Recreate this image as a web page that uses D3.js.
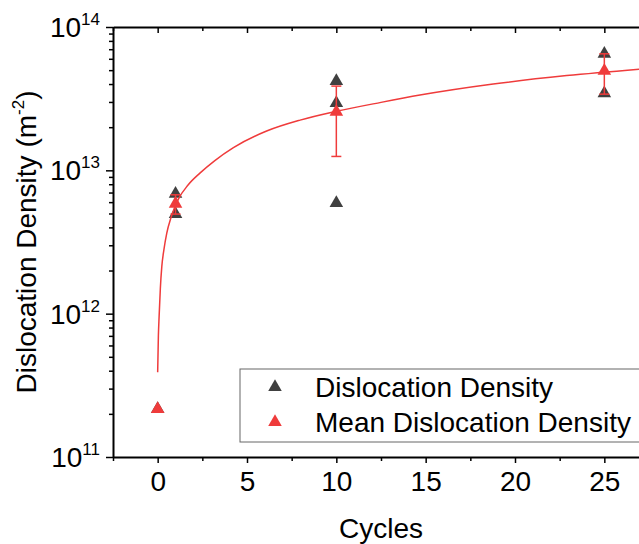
<!DOCTYPE html>
<html>
<head>
    <meta charset="utf-8">
    <title>Dislocation density vs cycles</title>
    <style>
        body { margin: 0; background: #fff; }
        svg { display: block; font-family: "Liberation Sans", Arial, sans-serif; }
        .axis path, .axis line { stroke: #000; }
        .axis text { fill: #000; }
    </style>
    <script src="https://d3js.org/d3.v7.min.js"></script>
</head>
<body>
<script type="application/javascript">
  // individual measurements (grey)
  var densCycles = [0, 1, 1, 10, 10, 10, 25, 25];
  var densValues = [2.16e11, 6.85e12, 4.95e12, 4.2e13, 2.95e13, 5.9e12, 6.5e13, 3.45e13];

  // mean + error (red)
  var meanCycles = [0, 1, 10, 25];
  var meanValues = [2.16e11, 5.85e12, 2.56e13, 4.95e13];
  var meanErrors = [0, 0.9e12, 1.31e13, 1.55e13];

  // fitted curve
  var fitCycles = [0, 0.04, 0.08, 0.15, 0.23, 0.35, 0.51, 0.75, 1.16, 1.7, 2.38, 3.2, 4.24, 6.1, 7.97, 10, 12.5, 14.68, 18.78, 22.89, 27.5];
  var fitValues = [3.9e11, 7.0e11, 9.5e11, 1.5e12, 2.12e12, 2.8e12, 3.65e12, 4.7e12, 6.3e12, 7.9e12, 9.6e12, 1.17e13, 1.44e13, 1.88e13, 2.24e13, 2.58e13, 2.98e13, 3.35e13, 4.0e13, 4.58e13, 5.15e13];

  var xTicks = [0, 5, 10, 15, 20, 25];
  var xMinorTicks = [-2.5, 2.5, 7.5, 12.5, 17.5, 22.5, 27.5];
  var yTicks = [1e11, 1e12, 1e13, 1e14];

  var legendLabels = ["Dislocation Density", "Mean Dislocation Density"];

  (function () {
  var w = 639, h = 544;
  var mLeft = 113, mRight = 649, mTop = 27, mBottom = 457;
  var grey = "#404040", red = "#ef3b3b";
  var fs = 28;

  var svg = d3.select("body").append("svg")
              .attr("width", w)
              .attr("height", h);

  var x = d3.scaleLinear().domain([-2.5, 27.5]).range([mLeft, mRight]);
  var y = d3.scaleLog().domain([1e11, 1e14]).range([mBottom, mTop]);

  var yMinor = [];
  [1e11, 1e12, 1e13].forEach(function (d) {
    for (var k = 2; k <= 9; k++) yMinor.push(d * k);
  });

  svg.append("clipPath").attr("id", "clip")
     .append("rect").attr("x", mLeft).attr("y", mTop)
     .attr("width", mRight - mLeft).attr("height", mBottom - mTop);

  // bottom axis
  svg.append("g").attr("class", "axis")
     .attr("transform", "translate(0," + mBottom + ")")
     .call(d3.axisBottom(x).tickValues(xMinorTicks).tickSize(4).tickSizeOuter(0).tickFormat(""))
     .call(function (g) { g.selectAll("line").attr("stroke-width", 1.5); g.select(".domain").remove(); });
  var xAx = svg.append("g").attr("class", "axis")
     .attr("transform", "translate(0," + mBottom + ")")
     .call(d3.axisBottom(x).tickValues(xTicks).tickSize(6).tickSizeOuter(0).tickPadding(8));
  xAx.select(".domain").attr("stroke-width", 2);
  xAx.selectAll("line").attr("stroke-width", 1.5);
  xAx.selectAll("text").attr("font-size", fs).attr("dy", "0.72em");

  // top axis, ticks inward
  svg.append("g").attr("class", "axis")
     .attr("transform", "translate(0," + mTop + ")")
     .call(d3.axisTop(x).tickValues(xMinorTicks).tickSize(-4).tickSizeOuter(0).tickFormat(""))
     .call(function (g) { g.selectAll("line").attr("stroke-width", 1.5); g.select(".domain").remove(); });
  var topAx = svg.append("g").attr("class", "axis")
     .attr("transform", "translate(0," + mTop + ")")
     .call(d3.axisTop(x).tickValues(xTicks).tickSize(-6).tickSizeOuter(0).tickFormat(""));
  topAx.select(".domain").attr("stroke-width", 2);
  topAx.selectAll("line").attr("stroke-width", 1.5);

  // left axis
  svg.append("g").attr("class", "axis")
     .attr("transform", "translate(" + mLeft + ",0)")
     .call(d3.axisLeft(y).tickValues(yMinor).tickSize(4).tickSizeOuter(0).tickFormat(""))
     .call(function (g) { g.selectAll("line").attr("stroke-width", 1.5); g.select(".domain").remove(); });
  var yAx = svg.append("g").attr("class", "axis")
     .attr("transform", "translate(" + mLeft + ",0)")
     .call(d3.axisLeft(y).tickValues(yTicks).tickSize(7).tickSizeOuter(0).tickFormat(""));
  yAx.select(".domain").attr("stroke-width", 2);
  yAx.selectAll("line").attr("stroke-width", 1.5);

  var ylab = svg.append("g").selectAll("text")
     .data(yTicks).enter().append("text")
     .attr("x", 100)
     .attr("y", function (d) { return y(d) + 10; })
     .attr("text-anchor", "end")
     .attr("font-size", fs)
     .attr("fill", "#000");
  ylab.append("tspan").text("10");
  ylab.append("tspan").attr("font-size", 17).attr("dy", -12)
      .text(function (d) { return Math.round(Math.log10(d)); });

  // axis titles
  svg.append("text")
     .attr("x", (mLeft + mRight) / 2).attr("y", 538)
     .attr("text-anchor", "middle").attr("font-size", fs)
     .text("Cycles");

  var yt = svg.append("text")
     .attr("transform", "translate(36," + (mTop + mBottom) / 2 + ") rotate(-90)")
     .attr("text-anchor", "middle").attr("font-size", fs);
  yt.append("tspan").text("Dislocation Density (m");
  yt.append("tspan").attr("font-size", 17).attr("dy", -12).text("-2");
  yt.append("tspan").attr("dy", 12).text(")");

  var plot = svg.append("g").attr("clip-path", "url(#clip)");
  var tri = d3.symbol().type(d3.symbolTriangle).size(80);

  // grey points
  plot.selectAll("path.dens")
      .data(densCycles).enter().append("path")
      .attr("class", "dens")
      .attr("d", tri)
      .attr("fill", grey)
      .attr("transform", function (d, i) {
        return "translate(" + x(d) + "," + y(densValues[i]) + ")";
      });

  // fit line
  var line = d3.line()
               .x(function (d, i) { return x(fitCycles[i]); })
               .y(function (d, i) { return y(fitValues[i]); })
               .curve(d3.curveMonotoneX);
  plot.append("path")
      .datum(fitCycles)
      .attr("d", line)
      .attr("fill", "none")
      .attr("stroke", red)
      .attr("stroke-width", 1.5);

  // error bars
  var eb = plot.selectAll("g.err")
      .data(meanCycles.filter(function (d, i) { return meanErrors[i] > 0; }))
      .enter().append("g").attr("class", "err")
      .attr("stroke", red).attr("stroke-width", 1.5);
  eb.each(function (d) {
    var i = meanCycles.indexOf(d);
    var g = d3.select(this);
    var hi = y(meanValues[i] + meanErrors[i]);
    var lo = y(meanValues[i] - meanErrors[i]);
    g.append("line").attr("x1", x(d)).attr("x2", x(d)).attr("y1", hi).attr("y2", lo);
    g.append("line").attr("x1", x(d) - 5).attr("x2", x(d) + 5).attr("y1", hi).attr("y2", hi);
    g.append("line").attr("x1", x(d) - 5).attr("x2", x(d) + 5).attr("y1", lo).attr("y2", lo);
  });

  // red mean points
  plot.selectAll("path.mean")
      .data(meanCycles).enter().append("path")
      .attr("class", "mean")
      .attr("d", tri)
      .attr("fill", red)
      .attr("transform", function (d, i) {
        return "translate(" + x(d) + "," + y(meanValues[i]) + ")";
      });

  // legend
  var lg = svg.append("g");
  lg.append("rect")
    .attr("x", 240).attr("y", 369).attr("width", 410).attr("height", 73)
    .attr("fill", "#fff").attr("stroke", "#666").attr("stroke-width", 1);
  var item = lg.selectAll("g.item").data(legendLabels).enter().append("g")
    .attr("transform", function (d, i) { return "translate(275," + (387 + i * 35) + ")"; });
  item.append("path").attr("d", tri)
    .attr("fill", function (d, i) { return i === 0 ? grey : red; });
  item.append("text")
    .attr("x", 40).attr("y", 10)
    .attr("font-size", fs)
    .text(function (d) { return d; });
  })();
</script>
</body>
</html>
